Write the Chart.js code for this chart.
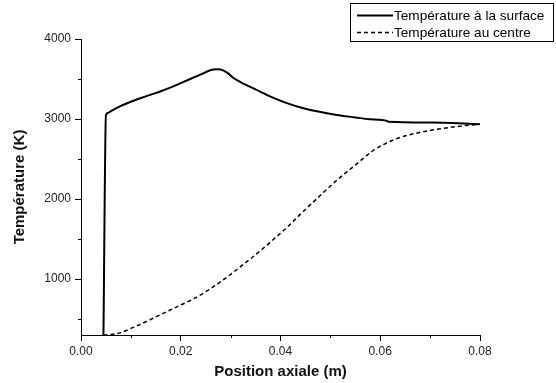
<!DOCTYPE html>
<html>
<head>
<meta charset="utf-8">
<script src="https://cdn.jsdelivr.net/npm/chart.js@4/dist/chart.umd.min.js"></script>
<style>
  html, body { margin: 0; padding: 0; background: #fff; }
  #wrap { width: 556px; height: 383px; position: relative; }
</style>
</head>
<body>
<div id="wrap"><canvas id="c" width="556" height="383"></canvas></div>
<script>
// Data
const seriesNames = ["Température à la surface", "Température au centre"];

const surfaceX = [0.0045, 0.0050, 0.0055, 0.0060, 0.0070, 0.0080, 0.0090, 0.0100, 0.0120, 0.0140, 0.0160, 0.0180, 0.0200, 0.0230, 0.0250, 0.0265, 0.0275, 0.0285, 0.0295, 0.0305, 0.0330, 0.0360, 0.0380, 0.0410, 0.0446, 0.0513, 0.0550, 0.0579, 0.0614, 0.0616, 0.0700, 0.0800];
const surfaceY = [300, 3050, 3078, 3098, 3133, 3164, 3191, 3216, 3262, 3305, 3347, 3395, 3448, 3530, 3585, 3620, 3622, 3608, 3570, 3515, 3430, 3340, 3280, 3205, 3134, 3050, 3020, 2996, 2976, 2966, 2955, 2935];

const centerX = [0.0045, 0.0060, 0.0080, 0.0105, 0.0130, 0.0158, 0.0190, 0.0225, 0.0260, 0.0292, 0.0325, 0.0359, 0.0385, 0.0412, 0.0445, 0.0479, 0.0515, 0.0553, 0.0580, 0.0606, 0.0640, 0.0674, 0.0707, 0.0740, 0.0770, 0.0800];
const centerY = [300, 305, 330, 396, 465, 550, 645, 750, 880, 1020, 1180, 1350, 1490, 1640, 1840, 2040, 2245, 2440, 2580, 2680, 2770, 2825, 2865, 2895, 2918, 2935];

const xMajorTicks = [0, 0.02, 0.04, 0.06, 0.08];
const xMinorTicks = [0.01, 0.03, 0.05, 0.07];
const yMajorTicks = [1000, 2000, 3000, 4000];
const yMinorTicks = [500, 1500, 2500, 3500];

const toPoints = (xs, ys) => xs.map((x, i) => ({ x: x, y: ys[i] }));

const FONT = "'Liberation Sans', Arial, Helvetica, sans-serif";

const minorTicksPlugin = {
  id: 'minorTicks',
  afterDraw(chart) {
    const ctx = chart.ctx;
    const xs = chart.scales.x, ys = chart.scales.y;
    const area = chart.chartArea;
    ctx.save();
    ctx.strokeStyle = '#000';
    ctx.lineWidth = 1;
    ctx.beginPath();
    xMinorTicks.forEach(v => {
      const px = Math.round(xs.getPixelForValue(v)) + 0.5;
      ctx.moveTo(px, area.bottom);
      ctx.lineTo(px, area.bottom + 3);
    });
    yMinorTicks.forEach(v => {
      const py = Math.round(ys.getPixelForValue(v)) + 0.5;
      ctx.moveTo(area.left, py);
      ctx.lineTo(area.left - 3, py);
    });
    ctx.stroke();
    ctx.restore();
  }
};

const legendBoxPlugin = {
  id: 'legendBox',
  afterDraw(chart) {
    const ctx = chart.ctx;
    ctx.save();
    const bx = 350.5, by = 3.5, bw = 203, bh = 38;
    ctx.strokeStyle = '#000';
    ctx.lineWidth = 1;
    ctx.setLineDash([]);
    ctx.strokeRect(bx, by, bw, bh);
    const rows = [15, 32];
    chart.data.datasets.forEach((ds, i) => {
      const y = rows[i] + 0.5;
      ctx.beginPath();
      ctx.strokeStyle = ds.borderColor;
      ctx.lineWidth = ds.borderWidth;
      ctx.setLineDash(ds.borderDash || []);
      ctx.moveTo(357, y);
      ctx.lineTo(393, y);
      ctx.stroke();
      ctx.setLineDash([]);
      ctx.fillStyle = '#000';
      ctx.font = '13.6px ' + FONT;
      ctx.textBaseline = 'middle';
      ctx.textAlign = 'left';
      ctx.fillText(ds.label, 394, rows[i] + 1);
    });
    ctx.restore();
  }
};

new Chart(document.getElementById('c'), {
  type: 'line',
  data: {
    datasets: [
      {
        label: seriesNames[0],
        data: toPoints(surfaceX, surfaceY),
        borderColor: '#000',
        borderWidth: 2,
        pointRadius: 0,
        fill: false,
        cubicInterpolationMode: 'monotone'
      },
      {
        label: seriesNames[1],
        data: toPoints(centerX, centerY),
        borderColor: '#000',
        borderWidth: 1.5,
        borderDash: [4, 3],
        pointRadius: 0,
        fill: false,
        cubicInterpolationMode: 'monotone'
      }
    ]
  },
  options: {
    responsive: false,
    devicePixelRatio: 1,
    animation: false,
    layout: { padding: { left: 0, top: 39, right: 76, bottom: 0 } },
    plugins: { legend: { display: false }, tooltip: { enabled: false } },
    scales: {
      x: {
        type: 'linear',
        min: 0,
        max: 0.08,
        afterFit: s => { s.height = 48; },
        afterBuildTicks: s => { s.ticks = xMajorTicks.map(v => ({ value: v })); },
        ticks: {
          callback: v => Number(v).toFixed(2),
          color: '#222',
          font: { family: FONT, size: 12 },
          padding: 3,
          maxRotation: 0,
          autoSkip: false
        },
        grid: { display: true, drawOnChartArea: false, drawTicks: true, tickLength: 6, color: '#000' },
        border: { display: true, color: '#000', width: 1 },
        title: {
          display: true,
          text: 'Position axiale (m)',
          color: '#111',
          font: { family: FONT, size: 15, weight: 'bold' },
          padding: { top: 0, bottom: 2 }
        }
      },
      y: {
        type: 'linear',
        min: 300,
        max: 4000,
        afterFit: s => { s.width = 81; },
        afterBuildTicks: s => { s.ticks = yMajorTicks.map(v => ({ value: v })); },
        ticks: {
          callback: v => String(v),
          color: '#222',
          font: { family: FONT, size: 12 },
          padding: 4,
          autoSkip: false
        },
        grid: { display: true, drawOnChartArea: false, drawTicks: true, tickLength: 6, color: '#000' },
        border: { display: true, color: '#000', width: 1 },
        title: {
          display: true,
          text: 'Température (K)',
          color: '#111',
          font: { family: FONT, size: 15, weight: 'bold' },
          padding: { top: 11, bottom: 0 }
        }
      }
    }
  },
  plugins: [minorTicksPlugin, legendBoxPlugin]
});
</script>
</body>
</html>
